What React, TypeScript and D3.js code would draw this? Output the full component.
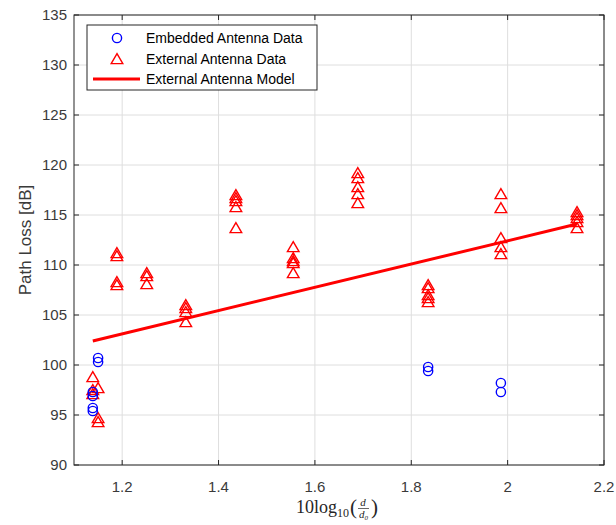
import * as d3 from 'd3';
import React from 'react';

// embedded antenna measurements (blue circles)
const embeddedX = [1.139, 1.139, 1.139, 1.139, 1.15, 1.15, 1.835, 1.835, 1.986, 1.986];
const embeddedY = [97.3, 96.9, 95.7, 95.4, 100.7, 100.3, 99.8, 99.4, 98.2, 97.3];

// external antenna measurements (red triangles)
const externalX = [
  1.139, 1.139, 1.139,
  1.15, 1.15, 1.15,
  1.189, 1.189, 1.189, 1.189,
  1.251, 1.251, 1.251,
  1.332, 1.332, 1.332, 1.332,
  1.436, 1.436, 1.436, 1.436, 1.436,
  1.555, 1.555, 1.555, 1.555, 1.555,
  1.689, 1.689, 1.689, 1.689, 1.689,
  1.835, 1.835, 1.835, 1.835, 1.835,
  1.986, 1.986, 1.986, 1.986, 1.986,
  2.144, 2.144, 2.144, 2.144, 2.144,
];
const externalY = [
  98.8, 97.5, 97.1,
  97.7, 94.7, 94.3,
  111.2, 110.9, 108.3, 108.0,
  109.2, 108.9, 108.1,
  106.0, 105.7, 105.3, 104.3,
  117.0, 116.7, 116.4, 115.8, 113.7,
  111.8, 110.7, 110.4, 110.2, 109.2,
  119.2, 118.7, 117.8, 117.1, 116.2,
  108.0, 107.7, 107.0, 106.7, 106.3,
  117.1, 115.7, 112.7, 111.8, 111.1,
  115.3, 115.0, 114.7, 114.3, 113.7,
];

// model line end points
const modelX = [1.139, 2.144];
const modelY = [102.4, 114.1];

const xTicks = [1.2, 1.4, 1.6, 1.8, 2, 2.2];
const yTicks = [90, 95, 100, 105, 110, 115, 120, 125, 130, 135];

const legendLabels = ['Embedded Antenna Data', 'External Antenna Data', 'External Antenna Model'];

const W = 616, H = 525;
const margin = { top: 15, right: 12, bottom: 60, left: 74 };

const axisColor = '#262626';
const tickText = '#3a3a3a';
const gridColor = '#dedede';
const font = 'Arial, "Liberation Sans", Helvetica, sans-serif';

const tri = 'M0,-5.3L5.8,4.6L-5.8,4.6Z';

export default function App() {
  const x = d3.scaleLinear().domain([1.1, 2.2]).range([margin.left, W - margin.right]);
  const y = d3.scaleLinear().domain([90, 135]).range([H - margin.bottom, margin.top]);
  const x0 = margin.left, x1 = W - margin.right;
  const y0 = H - margin.bottom, y1 = margin.top;

  const line = d3.line<number>()
    .x((d, i) => x(modelX[i]))
    .y(d => y(d));

  const lg = { x: 87, y: 25, w: 230, h: 65 };

  return (
    <svg width={W} height={H} style={{ position: 'absolute', left: 0, top: 0, background: '#fff' }}>
      <rect x={x0} y={y1} width={x1 - x0} height={y0 - y1} fill="#fff" />

      {/* grid */}
      {xTicks.map(t => (
        <line key={'gx' + t} x1={x(t)} x2={x(t)} y1={y0} y2={y1} stroke={gridColor} strokeWidth={1} />
      ))}
      {yTicks.map(t => (
        <line key={'gy' + t} x1={x0} x2={x1} y1={y(t)} y2={y(t)} stroke={gridColor} strokeWidth={1} />
      ))}

      {/* model */}
      <path d={line(modelY) || ''} fill="none" stroke="#ff0000" strokeWidth={3} />

      {/* external data */}
      {externalX.map((d, i) => (
        <path key={'e' + i} d={tri} transform={`translate(${x(d)},${y(externalY[i])})`}
          fill="none" stroke="#ff0000" strokeWidth={1.4} />
      ))}

      {/* embedded data */}
      {embeddedX.map((d, i) => (
        <circle key={'b' + i} cx={x(d)} cy={y(embeddedY[i])} r={4.6}
          fill="none" stroke="#0000ff" strokeWidth={1.4} />
      ))}

      {/* box */}
      <rect x={x0} y={y1} width={x1 - x0} height={y0 - y1} fill="none" stroke={axisColor} strokeWidth={1} />

      {/* ticks */}
      {xTicks.map(t => (
        <g key={'tx' + t}>
          <line x1={x(t)} x2={x(t)} y1={y0} y2={y0 - 5} stroke={axisColor} />
          <line x1={x(t)} x2={x(t)} y1={y1} y2={y1 + 5} stroke={axisColor} />
          <text x={x(t)} y={y0 + 27} textAnchor="middle" fontFamily={font} fontSize={15} fill={tickText}>{String(t)}</text>
        </g>
      ))}
      {yTicks.map(t => (
        <g key={'ty' + t}>
          <line x1={x0} x2={x0 + 5} y1={y(t)} y2={y(t)} stroke={axisColor} />
          <line x1={x1} x2={x1 - 5} y1={y(t)} y2={y(t)} stroke={axisColor} />
          <text x={x0 - 7} y={y(t) + 5} textAnchor="end" fontFamily={font} fontSize={15} fill={tickText}>{String(t)}</text>
        </g>
      ))}

      {/* y label */}
      <text transform={`translate(31,${(y0 + y1) / 2}) rotate(-90)`} textAnchor="middle"
        fontFamily={font} fontSize={17} fill={tickText}>Path Loss [dB]</text>

      {/* x label: 10log10(d/d0) */}
      <g transform={`translate(${(x0 + x1) / 2 - 43},513)`} fontFamily='"Liberation Serif", "DejaVu Serif", serif' fill={axisColor}>
        <text x={0} y={0} fontSize={18}>10log<tspan fontSize={12} dy={4}>10</tspan></text>
        <text x={54} y={1} fontSize={21}>(</text>
        <text x={67} y={-7} fontSize={11} fontStyle="italic" textAnchor="middle">d</text>
        <line x1={62} x2={73} y1={-4.5} y2={-4.5} stroke={axisColor} strokeWidth={0.7} />
        <text x={63} y={5} fontSize={11} fontStyle="italic">d<tspan fontSize={7} dy={2}>0</tspan></text>
        <text x={75} y={1} fontSize={21}>)</text>
      </g>

      {/* legend */}
      <rect x={lg.x} y={lg.y} width={lg.w} height={lg.h} fill="#fff" stroke={axisColor} strokeWidth={1} />
      <circle cx={117} cy={38} r={4.6} fill="none" stroke="#0000ff" strokeWidth={1.4} />
      <path d={tri} transform="translate(117,59)" fill="none" stroke="#ff0000" strokeWidth={1.4} />
      <line x1={93} x2={140} y1={79} y2={79} stroke="#ff0000" strokeWidth={3} />
      {legendLabels.map((s, i) => (
        <text key={s} x={146} y={43 + i * 20.5} fontFamily={font} fontSize={14} fill="#000">{s}</text>
      ))}
    </svg>
  );
}
